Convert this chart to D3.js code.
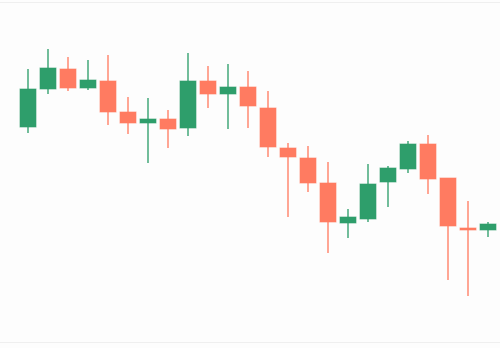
<!DOCTYPE html>
<html>
<head>
<meta charset="utf-8">
<script src="https://cdn.jsdelivr.net/npm/d3@7"></script>
<style>
  html, body { margin: 0; padding: 0; background: #fdfdfd; }
  svg { display: block; }
</style>
</head>
<body>
<div id="chart"></div>
<script>
// candle data
var days   = ["D1","D2","D3","D4","D5","D6","D7","D8","D9","D10","D11","D12",
              "D13","D14","D15","D16","D17","D18","D19","D20","D21","D22","D23","D24"];
var opens  = [186.5, 205.5, 215.5, 206, 209.5, 194, 188.5, 190.5, 186, 209.5, 203, 206.5,
              196, 176, 171, 158.5, 138.5, 140.5, 159, 165.5, 178, 161, 136, 135];
var highs  = [215.5, 225.5, 221.5, 220, 222.5, 201.5, 201, 195, 223.5, 217, 218, 214.5,
              204.5, 178.5, 177, 169, 145.5, 168, 167, 179.5, 182.5, 161, 149.5, 139];
var lows   = [183.5, 203, 204.5, 205, 187.5, 183, 168.5, 176, 182, 196, 185.5, 186,
              171.5, 141.5, 154, 123.5, 131, 139, 146.5, 163.5, 153, 110, 102, 131.5];
var closes = [205.5, 216, 206, 210, 194, 188.5, 190.5, 185.5, 209.5, 203, 206.5, 197,
              176.5, 171.5, 158.5, 139, 141.5, 158, 166, 178, 160.5, 137, 135, 138];

var width = 500, height = 348;
var upColor = "#2e9e6b", downColor = "#ff7b61";

var candles = days.map(function(d, i) {
    return { day: d, open: opens[i], high: highs[i], low: lows[i], close: closes[i] };
});

var svg = d3.select("#chart").append("svg")
    .attr("width", width)
    .attr("height", height);

// faint frame lines top and bottom
svg.append("line")
    .attr("x1", 0).attr("x2", width).attr("y1", 2.5).attr("y2", 2.5)
    .attr("stroke", "#efefef");
svg.append("line")
    .attr("x1", 0).attr("x2", width).attr("y1", 342.5).attr("y2", 342.5)
    .attr("stroke", "#efefef");

var x = d3.scaleBand()
    .domain(days)
    .range([18, 498])
    .paddingInner(0.2)
    .paddingOuter(0.1);

var y = d3.scaleLinear()
    .domain([100, 230])
    .range([300, 40]);

var g = svg.append("g")
    .selectAll("g")
    .data(candles)
    .join("g")
    .attr("fill", function(d) { return d.close >= d.open ? upColor : downColor; })
    .attr("stroke", function(d) { return d.close >= d.open ? upColor : downColor; });

// wicks
g.append("line")
    .attr("x1", function(d) { return x(d.day) + x.bandwidth() / 2; })
    .attr("x2", function(d) { return x(d.day) + x.bandwidth() / 2; })
    .attr("y1", function(d) { return y(d.high); })
    .attr("y2", function(d) { return y(d.low); })
    .attr("stroke-width", 1.6)
    .attr("stroke-opacity", 0.85);

// bodies
g.append("rect")
    .attr("x", function(d) { return x(d.day); })
    .attr("width", x.bandwidth())
    .attr("y", function(d) { return y(Math.max(d.open, d.close)); })
    .attr("height", function(d) { return Math.max(2, Math.abs(y(d.open) - y(d.close))); })
    .attr("stroke-width", 1)
    .attr("stroke-opacity", 0.6);
</script>
</body>
</html>
